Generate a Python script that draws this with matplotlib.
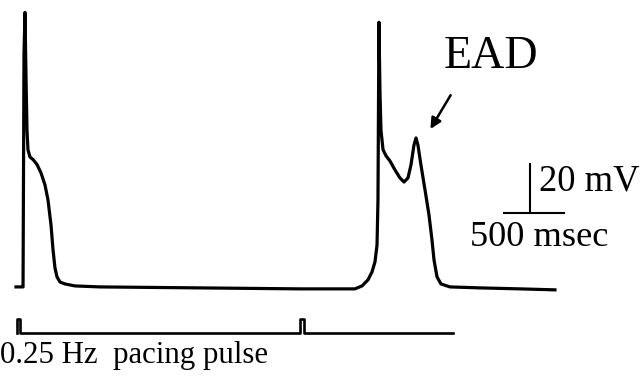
import numpy as np
import matplotlib.pyplot as plt

# membrane potential trace (time in ms, voltage in mV)
t_ms = [-67, -17, -8, 0, 8, 17, 25, 33, 50, 75, 108, 142, 175, 200, 225, 242,
        258, 275, 300, 342, 425, 633, 1467, 2300, 2758, 2817, 2867, 2900, 2925,
        2942, 2950, 2958, 2967, 2975, 2992, 3017, 3050, 3092, 3133, 3167, 3200,
        3225, 3250, 3267, 3283, 3308, 3342, 3375, 3400, 3417, 3442, 3475, 3550,
        3800, 4133, 4425]
v_mv = [-85, -85, -85, 10, 27, 0, -21, -29, -32, -33, -35, -38.5, -43.4, -49.5,
        -59.7, -69.9, -77.2, -80.9, -83, -83.8, -84.6, -85, -85.4, -85.8, -85.8,
        -84.6, -82.1, -78.9, -74.8, -67.9, -49.5, 23, -6.4, -21, -29, -31.5,
        -33.6, -37.3, -40.5, -42.2, -40.5, -35.2, -27.1, -24.2, -27.1, -35.2,
        -45.4, -55.6, -65.8, -74, -80.9, -83.8, -85, -85.4, -85.8, -86.2]

# pacing pulses at 0.25 Hz
pace_t = [-58, -58, -33, -33, 2300, 2300, 2333, 2333, 3575]
pace_lvl = [0, 1, 1, 0, 0, 1, 1, 0, 0]

bar_ms = 500
bar_mv = 20

fig = plt.figure(figsize=(6.44, 3.81), dpi=100)
ax = fig.add_axes([0, 0, 1, 1])
ax.set_xlim(-200, 5167)
ax.set_ylim(-123.4, 32.1)
ax.axis('off')

ax.plot(t_ms, v_mv, color='black', lw=2.3, solid_joinstyle='round')

pace_base, pace_top = -103.8, -98.1
pace_y = [pace_base + (pace_top - pace_base) * p for p in pace_lvl]
ax.plot(pace_t, pace_y, color='black', lw=1.9)

# scale bars
bx, by = 4000, -55
ax.plot([bx, bx + bar_ms], [by, by], color='black', lw=1.5)
ax.plot([bx + 217, bx + 217], [by, by + bar_mv], color='black', lw=1.5)

# arrow pointing at the EAD
ax.annotate('', xy=(3375, -21.5), xytext=(3567, -5.8),
            arrowprops=dict(arrowstyle='-|>', color='black', lw=1.8,
                            mutation_scale=16))

font = dict(family='Liberation Serif', color='black')
fig.text(444 / 644, 1 - 57 / 381, 'EAD', fontsize=33, va='center', ha='left', **font)
fig.text(539 / 644, 1 - 181 / 381, '20 mV', fontsize=26.4, va='center', ha='left', **font)
fig.text(470 / 644, 1 - 238 / 381, '500 msec', fontsize=26.2, va='center', ha='left', **font)
fig.text(0, 1 - 356 / 381, '0.25 Hz  pacing pulse', fontsize=22.2, va='center', ha='left', **font)

fig.savefig('out.png', dpi=100)
